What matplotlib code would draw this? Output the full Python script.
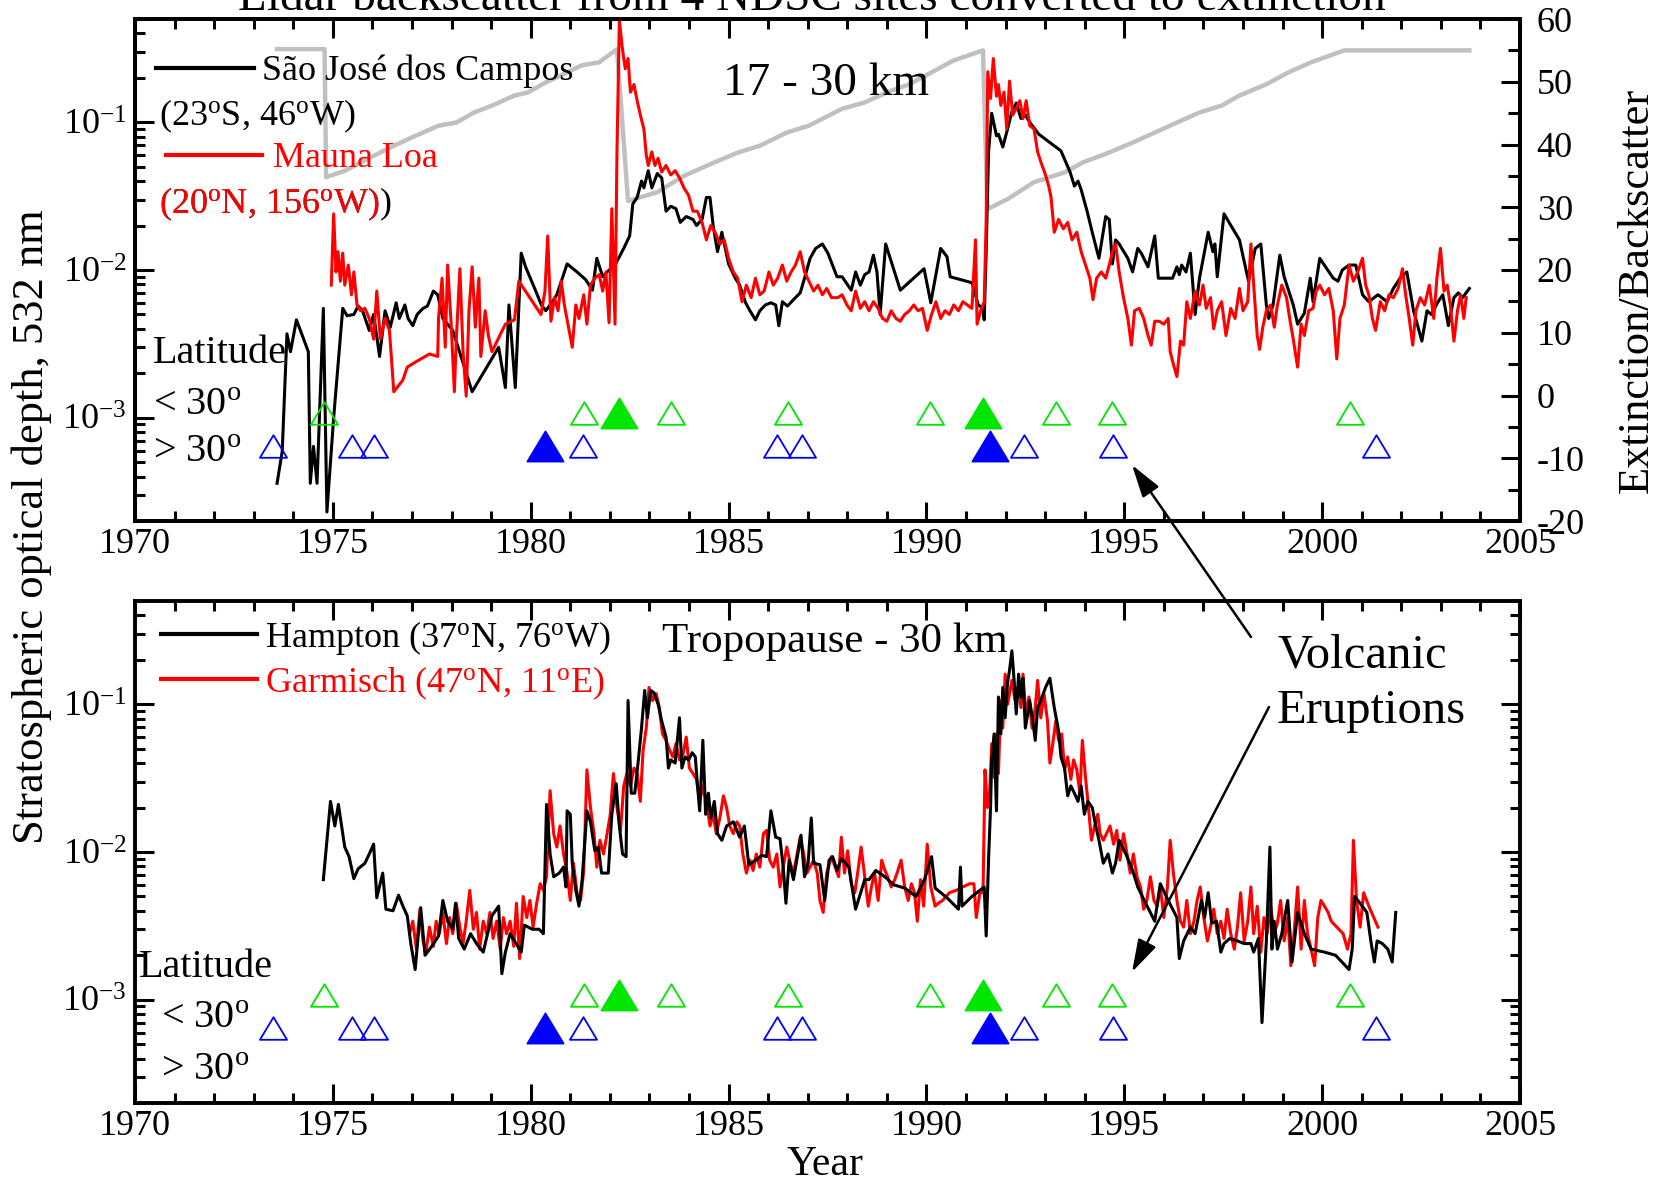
import numpy as np
import matplotlib
matplotlib.use('Agg')
import matplotlib.pyplot as plt
from matplotlib.ticker import MultipleLocator, LogLocator, NullFormatter
from matplotlib.lines import Line2D
from matplotlib.patches import FancyArrowPatch
from matplotlib.path import Path

plt.rcParams['font.family'] = 'Liberation Serif'
plt.rcParams['mathtext.fontset'] = 'custom'
plt.rcParams['mathtext.rm'] = 'Liberation Serif'
plt.rcParams['mathtext.it'] = 'Liberation Serif:italic'
plt.rcParams['mathtext.bf'] = 'Liberation Serif:bold'
plt.rcParams['axes.unicode_minus'] = False

## Data (year, optical depth)

# Sao Jose dos Campos, 17-30 km
sjc = [(1973.59, 3.6e-4), (1973.72, 5.9e-4), (1973.84, 0.0037), (1973.93, 0.0028), (1974.08, 0.0046),
       (1974.38, 0.0028), (1974.43, 3.6e-4), (1974.51, 6.4e-4), (1974.60, 3.6e-4), (1974.76, 0.0055),
       (1974.85, 2.3e-4), (1975.02, 0.0010), (1975.25, 0.0055), (1975.36, 0.0049), (1975.53, 0.0050),
       (1975.64, 0.0057), (1975.75, 0.0053), (1975.92, 0.0039), (1976.03, 0.0050), (1976.18, 0.0026),
       (1976.32, 0.0053), (1976.45, 0.0041), (1976.60, 0.0060), (1976.68, 0.0047), (1976.82, 0.0058),
       (1976.90, 0.0047), (1977.02, 0.0042), (1977.13, 0.0050), (1977.28, 0.0055), (1977.39, 0.0057),
       (1977.54, 0.0072), (1977.65, 0.0068), (1977.78, 0.0047), (1978.03, 0.0039), (1978.52, 0.0015),
       (1979.19, 0.0030), (1979.36, 0.0016), (1979.45, 0.0058), (1979.61, 0.0016), (1979.76, 0.0130),
       (1979.87, 0.0105), (1980.10, 0.0075), (1980.27, 0.0058), (1980.38, 0.0053), (1980.55, 0.0061),
       (1980.66, 0.0068), (1980.92, 0.0110), (1981.17, 0.0097), (1981.39, 0.0086), (1981.56, 0.0073),
       (1981.67, 0.0120), (1981.82, 0.0090), (1981.93, 0.0097), (1982.13, 0.0108), (1982.35, 0.0140),
       (1982.50, 0.0170), (1982.58, 0.028), (1982.69, 0.031), (1982.80, 0.040), (1982.86, 0.036),
       (1982.97, 0.047), (1983.06, 0.036), (1983.20, 0.045), (1983.31, 0.042), (1983.42, 0.025),
       (1983.54, 0.027), (1983.67, 0.026), (1983.78, 0.021), (1983.93, 0.023), (1984.10, 0.022),
       (1984.19, 0.020), (1984.33, 0.022), (1984.44, 0.031), (1984.53, 0.031), (1984.61, 0.020),
       (1984.72, 0.0133), (1984.83, 0.018), (1985.00, 0.011), (1985.17, 0.0088), (1985.28, 0.0079),
       (1985.43, 0.0060), (1985.54, 0.0053), (1985.68, 0.0046), (1985.79, 0.0053), (1985.93, 0.0058),
       (1986.07, 0.0060), (1986.19, 0.0058), (1986.27, 0.0042), (1986.36, 0.0061), (1986.49, 0.0057),
       (1986.64, 0.0063), (1986.81, 0.0070), (1986.92, 0.0088), (1987.06, 0.012), (1987.20, 0.014),
       (1987.37, 0.015), (1987.51, 0.013), (1987.74, 0.0090), (1987.87, 0.0090), (1988.10, 0.0073),
       (1988.21, 0.0097), (1988.33, 0.0079), (1988.44, 0.0093), (1988.55, 0.0097), (1988.66, 0.0126),
       (1988.75, 0.0097), (1988.83, 0.0050), (1988.97, 0.015), (1989.34, 0.0073), (1989.94, 0.0102),
       (1990.11, 0.0060), (1990.36, 0.014), (1990.52, 0.0123), (1990.60, 0.0090), (1991.15, 0.0082),
       (1991.31, 0.0058), (1991.43, 0.0055), (1991.46, 0.0046), (1991.51, 0.0133), (1991.57, 0.063),
       (1991.65, 0.115), (1991.77, 0.081), (1991.82, 0.083), (1991.93, 0.068), (1992.05, 0.090),
       (1992.16, 0.118), (1992.27, 0.135), (1992.39, 0.106), (1992.50, 0.112), (1992.61, 0.100),
       (1992.84, 0.083), (1993.40, 0.064), (1993.63, 0.046), (1993.74, 0.037), (1993.83, 0.040),
       (1993.91, 0.035), (1994.06, 0.025), (1994.19, 0.018), (1994.36, 0.012), (1994.53, 0.023),
       (1994.62, 0.022), (1994.70, 0.011), (1994.78, 0.016), (1994.87, 0.015), (1995.09, 0.012),
       (1995.21, 0.0097), (1995.34, 0.014), (1995.43, 0.013), (1995.60, 0.0105), (1995.77, 0.017),
       (1995.86, 0.0088), (1996.22, 0.0088), (1996.33, 0.0105), (1996.39, 0.0093), (1996.45, 0.0108),
       (1996.56, 0.0097), (1996.67, 0.013), (1996.79, 0.0050), (1996.90, 0.0088), (1997.12, 0.018),
       (1997.24, 0.0133), (1997.29, 0.015), (1997.35, 0.0090), (1997.52, 0.024), (1997.91, 0.016),
       (1998.14, 0.0084), (1998.31, 0.014), (1998.45, 0.015), (1998.59, 0.0058), (1998.65, 0.0047),
       (1998.76, 0.0058), (1998.93, 0.0126), (1999.04, 0.0090), (1999.27, 0.0058), (1999.38, 0.0043),
       (1999.55, 0.0051), (1999.70, 0.0088), (1999.77, 0.0061), (1999.94, 0.012), (2000.28, 0.0088),
       (2000.40, 0.0084), (2000.51, 0.010), (2000.68, 0.0108), (2000.85, 0.0108), (2001.02, 0.0068),
       (2001.18, 0.0061), (2001.41, 0.0068), (2001.64, 0.0061), (2001.80, 0.0075), (2001.97, 0.0088),
       (2002.14, 0.0097), (2002.31, 0.0053), (2002.52, 0.0033), (2002.65, 0.0053), (2002.76, 0.0050),
       (2002.93, 0.0061), (2003.05, 0.0068), (2003.19, 0.0042), (2003.33, 0.0065), (2003.44, 0.0070),
       (2003.55, 0.0065), (2003.72, 0.0075)]

# Mauna Loa, 17-30 km
mlo = [(1974.96, 0.0079), (1975.02, 0.024), (1975.08, 0.0097), (1975.13, 0.0133), (1975.19, 0.0084),
       (1975.25, 0.013), (1975.30, 0.0079), (1975.39, 0.0108), (1975.47, 0.0068), (1975.53, 0.0097),
       (1975.61, 0.0058), (1975.70, 0.0053), (1975.81, 0.0055), (1975.92, 0.0047), (1976.03, 0.0034),
       (1976.11, 0.0072), (1976.20, 0.0034), (1976.32, 0.0047), (1976.43, 0.0039), (1976.54, 0.0015),
       (1976.77, 0.0018), (1976.88, 0.0022), (1977.11, 0.0024), (1977.44, 0.0027), (1977.65, 0.0026),
       (1977.67, 0.0047), (1977.76, 0.0088), (1977.84, 0.0030), (1977.90, 0.0108), (1977.99, 0.0043),
       (1978.07, 0.0015), (1978.12, 0.0034), (1978.21, 0.0102), (1978.29, 0.0028), (1978.37, 0.0014),
       (1978.44, 0.0053), (1978.52, 0.0105), (1978.60, 0.0041), (1978.69, 0.0088), (1978.74, 0.0026),
       (1978.85, 0.0053), (1978.93, 0.0036), (1979.02, 0.0028), (1979.36, 0.0043), (1979.59, 0.0046),
       (1979.70, 0.0084), (1980.26, 0.0050), (1980.36, 0.0072), (1980.43, 0.017), (1980.51, 0.0045),
       (1980.60, 0.0065), (1980.69, 0.0053), (1980.77, 0.0084), (1980.85, 0.0058), (1980.94, 0.0043),
       (1981.05, 0.0030), (1981.14, 0.0058), (1981.22, 0.0047), (1981.34, 0.0068), (1981.42, 0.0043),
       (1981.51, 0.0079), (1981.62, 0.0088), (1981.73, 0.0093), (1981.82, 0.0072), (1981.90, 0.0097),
       (1981.98, 0.0044), (1982.05, 0.026), (1982.13, 0.0043), (1982.18, 0.063), (1982.24, 0.49),
       (1982.32, 0.31), (1982.39, 0.23), (1982.46, 0.27), (1982.52, 0.16), (1982.61, 0.18),
       (1982.69, 0.14), (1982.77, 0.112), (1982.86, 0.090), (1982.92, 0.060), (1982.97, 0.051),
       (1983.06, 0.063), (1983.14, 0.051), (1983.22, 0.057), (1983.31, 0.046), (1983.42, 0.051),
       (1983.54, 0.044), (1983.65, 0.047), (1983.76, 0.042), (1983.87, 0.036), (1983.99, 0.032),
       (1984.10, 0.025), (1984.21, 0.025), (1984.33, 0.021), (1984.44, 0.016), (1984.55, 0.020),
       (1984.66, 0.018), (1984.78, 0.015), (1984.89, 0.016), (1985.00, 0.012), (1985.12, 0.0097),
       (1985.23, 0.0088), (1985.34, 0.0061), (1985.45, 0.0079), (1985.57, 0.0065), (1985.68, 0.0088),
       (1985.79, 0.0068), (1985.90, 0.0072), (1986.02, 0.0097), (1986.13, 0.0079), (1986.24, 0.0088),
       (1986.36, 0.0108), (1986.47, 0.0084), (1986.58, 0.0097), (1986.69, 0.0108), (1986.81, 0.0133),
       (1986.92, 0.0097), (1987.03, 0.0084), (1987.15, 0.0072), (1987.26, 0.0079), (1987.37, 0.0068),
       (1987.48, 0.0075), (1987.60, 0.0065), (1987.76, 0.0065), (1987.87, 0.0068), (1987.99, 0.0058),
       (1988.10, 0.0053), (1988.21, 0.0072), (1988.33, 0.0055), (1988.44, 0.0061), (1988.55, 0.0053),
       (1988.66, 0.0061), (1988.78, 0.0055), (1988.89, 0.0047), (1989.00, 0.0045), (1989.11, 0.0053),
       (1989.23, 0.0047), (1989.34, 0.0045), (1989.45, 0.0050), (1989.57, 0.0053), (1989.68, 0.0058),
       (1989.79, 0.0053), (1989.90, 0.0055), (1990.02, 0.0039), (1990.13, 0.0050), (1990.24, 0.0061),
       (1990.36, 0.0047), (1990.47, 0.0053), (1990.58, 0.0050), (1990.69, 0.0058), (1990.81, 0.0053),
       (1990.92, 0.0061), (1991.03, 0.0058), (1991.15, 0.0055), (1991.24, 0.016), (1991.28, 0.0043),
       (1991.37, 0.0053), (1991.46, 0.0061), (1991.51, 0.022), (1991.55, 0.22), (1991.62, 0.145),
       (1991.69, 0.27), (1991.77, 0.15), (1991.82, 0.18), (1991.88, 0.13), (1991.96, 0.16),
       (1992.03, 0.090), (1992.10, 0.19), (1992.18, 0.112), (1992.27, 0.124), (1992.36, 0.14),
       (1992.44, 0.106), (1992.52, 0.14), (1992.61, 0.095), (1992.72, 0.090), (1992.81, 0.063),
       (1992.89, 0.054), (1993.01, 0.044), (1993.09, 0.037), (1993.15, 0.031), (1993.23, 0.018),
       (1993.34, 0.022), (1993.46, 0.019), (1993.57, 0.021), (1993.68, 0.016), (1993.80, 0.018),
       (1993.91, 0.0133), (1994.02, 0.0108), (1994.13, 0.0088), (1994.21, 0.0063), (1994.30, 0.0088),
       (1994.42, 0.0097), (1994.53, 0.0088), (1994.62, 0.0108), (1994.70, 0.0133), (1994.78, 0.015),
       (1994.87, 0.0097), (1994.98, 0.0065), (1995.09, 0.0047), (1995.18, 0.0031), (1995.26, 0.0053),
       (1995.38, 0.0055), (1995.49, 0.0047), (1995.60, 0.0036), (1995.68, 0.0031), (1995.77, 0.0045),
       (1995.88, 0.0045), (1996.00, 0.0043), (1996.11, 0.0047), (1996.16, 0.0028), (1996.24, 0.0023),
       (1996.33, 0.0019), (1996.42, 0.0033), (1996.50, 0.0031), (1996.58, 0.0061), (1996.67, 0.0047),
       (1996.79, 0.0072), (1996.90, 0.0058), (1996.99, 0.0079), (1997.07, 0.0055), (1997.18, 0.0065),
       (1997.26, 0.0040), (1997.35, 0.0053), (1997.46, 0.0061), (1997.57, 0.0036), (1997.69, 0.0055),
       (1997.80, 0.0047), (1997.91, 0.0075), (1998.00, 0.0053), (1998.12, 0.0061), (1998.20, 0.015),
       (1998.27, 0.0079), (1998.36, 0.0036), (1998.42, 0.0029), (1998.50, 0.0041), (1998.59, 0.0053),
       (1998.70, 0.0058), (1998.79, 0.0041), (1998.87, 0.0058), (1998.98, 0.0079), (1999.10, 0.0065),
       (1999.18, 0.0047), (1999.27, 0.0034), (1999.38, 0.0022), (1999.47, 0.0043), (1999.55, 0.0036),
       (1999.66, 0.0053), (1999.77, 0.0055), (1999.85, 0.0072), (1999.94, 0.0079), (2000.06, 0.0068),
       (2000.17, 0.0075), (2000.28, 0.0053), (2000.37, 0.0025), (2000.45, 0.0047), (2000.56, 0.0058),
       (2000.68, 0.0108), (2000.79, 0.0084), (2000.90, 0.0097), (2001.02, 0.012), (2001.10, 0.0079),
       (2001.18, 0.0068), (2001.27, 0.0047), (2001.35, 0.0039), (2001.47, 0.0061), (2001.58, 0.0053),
       (2001.69, 0.0068), (2001.80, 0.0065), (2001.92, 0.0075), (2002.03, 0.0102), (2002.11, 0.0068),
       (2002.20, 0.0047), (2002.29, 0.0031), (2002.37, 0.0053), (2002.48, 0.0065), (2002.59, 0.0058),
       (2002.71, 0.0079), (2002.82, 0.0047), (2002.90, 0.0088), (2002.99, 0.014), (2003.08, 0.0072),
       (2003.16, 0.0079), (2003.24, 0.0058), (2003.33, 0.0033), (2003.42, 0.0053), (2003.50, 0.0068),
       (2003.58, 0.0047), (2003.64, 0.0065)]

# Hampton, tropopause-30 km
hampton = [(1974.76, 0.0065), (1974.94, 0.022), (1975.05, 0.015), (1975.14, 0.021), (1975.30, 0.0108),
           (1975.41, 0.0093), (1975.53, 0.0066), (1975.64, 0.0077), (1975.81, 0.0084), (1975.92, 0.0097),
           (1976.03, 0.0113), (1976.11, 0.0049), (1976.26, 0.0072), (1976.34, 0.0041), (1976.52, 0.0040),
           (1976.66, 0.0051), (1976.77, 0.0043), (1976.88, 0.0037), (1976.97, 0.0024), (1977.08, 0.0016),
           (1977.22, 0.0042), (1977.33, 0.0020), (1977.50, 0.0023), (1977.67, 0.0027), (1977.78, 0.0047),
           (1977.90, 0.0034), (1978.03, 0.0030), (1978.10, 0.0045), (1978.18, 0.0026), (1978.32, 0.0022),
           (1978.48, 0.0028), (1978.63, 0.0024), (1978.80, 0.0021), (1978.91, 0.0028), (1979.02, 0.0037),
           (1979.19, 0.0043), (1979.27, 0.0015), (1979.36, 0.0021), (1979.48, 0.0028), (1979.59, 0.0025),
           (1979.76, 0.0021), (1979.84, 0.0032), (1980.04, 0.0030), (1980.21, 0.0030), (1980.32, 0.0028),
           (1980.40, 0.021), (1980.49, 0.0097), (1980.58, 0.0068), (1980.72, 0.0072), (1980.83, 0.0079),
           (1980.89, 0.0058), (1980.92, 0.019), (1981.00, 0.018), (1981.05, 0.0084), (1981.14, 0.0055),
           (1981.22, 0.0043), (1981.30, 0.0065), (1981.42, 0.019), (1981.51, 0.016), (1981.62, 0.0102),
           (1981.71, 0.0108), (1981.79, 0.0072), (1981.96, 0.0072), (1982.05, 0.018), (1982.16, 0.029),
           (1982.24, 0.015), (1982.32, 0.0097), (1982.41, 0.0093), (1982.46, 0.106), (1982.54, 0.025),
           (1982.63, 0.025), (1982.72, 0.042), (1982.80, 0.069), (1982.88, 0.124), (1982.95, 0.081),
           (1983.03, 0.124), (1983.11, 0.12), (1983.22, 0.100), (1983.31, 0.077), (1983.42, 0.060),
           (1983.48, 0.037), (1983.54, 0.042), (1983.65, 0.040), (1983.76, 0.081), (1983.82, 0.037),
           (1983.90, 0.044), (1983.99, 0.042), (1984.08, 0.047), (1984.16, 0.044), (1984.21, 0.029),
           (1984.27, 0.019), (1984.35, 0.057), (1984.42, 0.018), (1984.49, 0.025), (1984.55, 0.017),
           (1984.64, 0.022), (1984.72, 0.0133), (1984.83, 0.012), (1984.95, 0.015), (1985.12, 0.016),
           (1985.28, 0.0126), (1985.40, 0.015), (1985.51, 0.0082), (1985.68, 0.0088), (1985.85, 0.0095),
           (1985.96, 0.0093), (1986.07, 0.019), (1986.19, 0.0126), (1986.30, 0.0123), (1986.38, 0.0079),
           (1986.45, 0.0045), (1986.53, 0.0088), (1986.64, 0.0065), (1986.75, 0.0097), (1986.83, 0.013),
           (1986.92, 0.0068), (1987.01, 0.0084), (1987.09, 0.017), (1987.15, 0.0084), (1987.31, 0.0082),
           (1987.43, 0.0047), (1987.54, 0.0088), (1987.63, 0.0093), (1987.74, 0.0075), (1987.85, 0.0090),
           (1988.04, 0.0079), (1988.21, 0.0041), (1988.44, 0.0065), (1988.55, 0.0065), (1988.72, 0.0075),
           (1988.95, 0.0068), (1989.17, 0.0060), (1989.45, 0.0057), (1989.74, 0.0050), (1989.96, 0.0066),
           (1990.13, 0.0093), (1990.22, 0.0057), (1990.52, 0.0049), (1990.81, 0.0041), (1990.86, 0.0079),
           (1990.90, 0.0043), (1991.15, 0.0050), (1991.46, 0.0058), (1991.51, 0.0027), (1991.57, 0.0088),
           (1991.62, 0.020), (1991.65, 0.042), (1991.71, 0.063), (1991.77, 0.019), (1991.82, 0.112),
           (1991.88, 0.063), (1991.93, 0.13), (1991.99, 0.081), (1992.05, 0.14), (1992.10, 0.17),
           (1992.16, 0.23), (1992.22, 0.14), (1992.27, 0.086), (1992.33, 0.16), (1992.39, 0.112),
           (1992.44, 0.15), (1992.50, 0.069), (1992.56, 0.086), (1992.61, 0.106), (1992.70, 0.073),
           (1992.75, 0.057), (1992.81, 0.095), (1992.89, 0.106), (1993.01, 0.13), (1993.12, 0.15),
           (1993.23, 0.095), (1993.34, 0.066), (1993.40, 0.044), (1993.49, 0.037), (1993.57, 0.024),
           (1993.65, 0.028), (1993.74, 0.025), (1993.83, 0.022), (1993.91, 0.028), (1993.99, 0.018),
           (1994.08, 0.022), (1994.19, 0.020), (1994.28, 0.015), (1994.36, 0.012), (1994.47, 0.0084),
           (1994.59, 0.0097), (1994.70, 0.0072), (1994.78, 0.0084), (1994.87, 0.012), (1995.04, 0.0097),
           (1995.21, 0.0075), (1995.34, 0.0058), (1995.54, 0.0045), (1995.77, 0.0034), (1995.91, 0.0061),
           (1996.11, 0.0047), (1996.33, 0.0036), (1996.39, 0.0019), (1996.50, 0.0025), (1996.67, 0.0031),
           (1996.79, 0.0028), (1996.95, 0.0047), (1997.03, 0.0036), (1997.12, 0.0053), (1997.21, 0.0033),
           (1997.33, 0.0034), (1997.44, 0.0021), (1997.52, 0.0024), (1997.67, 0.0026), (1997.86, 0.0025),
           (1998.03, 0.0024), (1998.20, 0.0024), (1998.27, 0.0021), (1998.39, 0.0026), (1998.48, 0.0007),
           (1998.59, 0.0025), (1998.68, 0.0108), (1998.73, 0.0022), (1998.79, 0.0034), (1998.87, 0.0022),
           (1998.98, 0.0028), (1999.13, 0.0047), (1999.24, 0.0018), (1999.38, 0.0039), (1999.55, 0.0028),
           (1999.72, 0.0022), (2000.06, 0.0021), (2000.34, 0.0020), (2000.68, 0.0016), (2000.76, 0.0022),
           (2000.82, 0.0050), (2000.96, 0.0045), (2001.13, 0.0039), (2001.24, 0.0024), (2001.32, 0.0018),
           (2001.39, 0.0025), (2001.52, 0.0024), (2001.66, 0.0022), (2001.77, 0.0018), (2001.86, 0.0039)]

# Garmisch, tropopause-30 km
garmisch = [(1976.94, 0.0028), (1977.02, 0.0034), (1977.11, 0.0022), (1977.20, 0.0041), (1977.28, 0.0025),
            (1977.35, 0.0021), (1977.44, 0.0031), (1977.54, 0.0023), (1977.61, 0.0034), (1977.69, 0.0028),
            (1977.78, 0.0039), (1977.87, 0.0024), (1977.95, 0.0036), (1978.03, 0.0028), (1978.12, 0.0045),
            (1978.21, 0.0031), (1978.29, 0.0024), (1978.37, 0.0034), (1978.46, 0.0055), (1978.55, 0.0030),
            (1978.63, 0.0039), (1978.71, 0.0022), (1978.80, 0.0034), (1978.89, 0.0028), (1978.97, 0.0039),
            (1979.05, 0.0026), (1979.14, 0.0034), (1979.23, 0.0022), (1979.31, 0.0036), (1979.39, 0.0028),
            (1979.48, 0.0034), (1979.57, 0.0023), (1979.64, 0.0045), (1979.72, 0.0019), (1979.81, 0.0050),
            (1979.90, 0.0036), (1979.98, 0.0047), (1980.06, 0.0031), (1980.15, 0.0045), (1980.24, 0.0061),
            (1980.32, 0.0055), (1980.40, 0.0068), (1980.49, 0.026), (1980.58, 0.0133), (1980.66, 0.0108),
            (1980.74, 0.015), (1980.83, 0.0097), (1980.92, 0.0072), (1981.00, 0.0047), (1981.08, 0.0084),
            (1981.17, 0.0053), (1981.26, 0.0047), (1981.34, 0.0075), (1981.42, 0.036), (1981.51, 0.020),
            (1981.60, 0.0133), (1981.67, 0.0079), (1981.75, 0.012), (1981.84, 0.0097), (1981.93, 0.0133),
            (1982.01, 0.018), (1982.09, 0.034), (1982.18, 0.020), (1982.27, 0.014), (1982.35, 0.028),
            (1982.43, 0.034), (1982.52, 0.028), (1982.61, 0.037), (1982.69, 0.034), (1982.77, 0.022),
            (1982.84, 0.049), (1982.92, 0.069), (1982.99, 0.13), (1983.08, 0.106), (1983.17, 0.118),
            (1983.25, 0.095), (1983.33, 0.063), (1983.42, 0.057), (1983.51, 0.049), (1983.59, 0.044),
            (1983.67, 0.054), (1983.76, 0.042), (1983.85, 0.046), (1983.93, 0.060), (1984.01, 0.037),
            (1984.10, 0.034), (1984.19, 0.031), (1984.27, 0.022), (1984.35, 0.028), (1984.44, 0.022),
            (1984.53, 0.015), (1984.61, 0.018), (1984.69, 0.0133), (1984.78, 0.017), (1984.87, 0.024),
            (1984.95, 0.020), (1985.03, 0.015), (1985.12, 0.0133), (1985.21, 0.016), (1985.28, 0.015),
            (1985.36, 0.0097), (1985.45, 0.0072), (1985.54, 0.0088), (1985.62, 0.0075), (1985.70, 0.0097),
            (1985.79, 0.0079), (1985.88, 0.0133), (1985.96, 0.014), (1986.04, 0.0088), (1986.13, 0.0079),
            (1986.22, 0.0097), (1986.30, 0.0058), (1986.38, 0.0079), (1986.47, 0.0108), (1986.56, 0.0084),
            (1986.64, 0.0072), (1986.72, 0.0093), (1986.81, 0.0126), (1986.90, 0.0097), (1986.98, 0.0072),
            (1987.06, 0.0079), (1987.15, 0.0088), (1987.24, 0.0072), (1987.31, 0.0047), (1987.39, 0.0039),
            (1987.48, 0.0072), (1987.60, 0.0093), (1987.78, 0.0068), (1987.85, 0.0126), (1987.93, 0.0072),
            (1988.01, 0.0102), (1988.10, 0.0061), (1988.19, 0.0053), (1988.27, 0.0075), (1988.35, 0.0108),
            (1988.44, 0.0068), (1988.53, 0.0043), (1988.61, 0.0058), (1988.69, 0.0072), (1988.78, 0.0047),
            (1988.87, 0.0088), (1988.95, 0.0075), (1989.02, 0.0068), (1989.11, 0.0058), (1989.20, 0.0065),
            (1989.28, 0.0075), (1989.36, 0.0088), (1989.45, 0.0058), (1989.54, 0.0047), (1989.62, 0.0061),
            (1989.70, 0.0053), (1989.77, 0.0034), (1989.85, 0.0065), (1989.93, 0.0043), (1990.02, 0.0113),
            (1990.11, 0.0058), (1990.22, 0.0043), (1990.30, 0.0045), (1990.41, 0.0047), (1990.58, 0.0053),
            (1990.75, 0.0055), (1990.92, 0.0058), (1991.09, 0.0061), (1991.20, 0.0061), (1991.26, 0.0036),
            (1991.35, 0.0053), (1991.43, 0.0053), (1991.48, 0.036), (1991.54, 0.020), (1991.60, 0.026),
            (1991.65, 0.054), (1991.71, 0.032), (1991.77, 0.063), (1991.82, 0.034), (1991.88, 0.106),
            (1991.93, 0.069), (1991.99, 0.16), (1992.05, 0.100), (1992.10, 0.118), (1992.16, 0.145),
            (1992.24, 0.106), (1992.31, 0.13), (1992.39, 0.095), (1992.44, 0.16), (1992.52, 0.081),
            (1992.59, 0.112), (1992.67, 0.069), (1992.75, 0.095), (1992.81, 0.145), (1992.89, 0.081),
            (1992.97, 0.118), (1993.06, 0.077), (1993.12, 0.040), (1993.18, 0.051), (1993.27, 0.077),
            (1993.34, 0.057), (1993.42, 0.063), (1993.49, 0.036), (1993.57, 0.044), (1993.65, 0.031),
            (1993.72, 0.042), (1993.80, 0.036), (1993.88, 0.025), (1993.94, 0.057), (1994.02, 0.032),
            (1994.08, 0.022), (1994.17, 0.012), (1994.25, 0.015), (1994.33, 0.018), (1994.39, 0.0133),
            (1994.47, 0.012), (1994.55, 0.0133), (1994.64, 0.015), (1994.73, 0.0113), (1994.81, 0.014),
            (1994.89, 0.0088), (1994.98, 0.0133), (1995.07, 0.0097), (1995.15, 0.0072), (1995.23, 0.0097),
            (1995.32, 0.0068), (1995.41, 0.0058), (1995.49, 0.0041), (1995.57, 0.0047), (1995.66, 0.0068),
            (1995.75, 0.0047), (1995.83, 0.0043), (1995.91, 0.0058), (1996.00, 0.0036), (1996.09, 0.0058),
            (1996.16, 0.012), (1996.24, 0.0072), (1996.33, 0.0047), (1996.42, 0.0034), (1996.50, 0.0031),
            (1996.58, 0.0047), (1996.67, 0.0028), (1996.76, 0.0034), (1996.84, 0.0047), (1996.92, 0.0058),
            (1997.01, 0.0036), (1997.10, 0.0025), (1997.18, 0.0031), (1997.26, 0.0041), (1997.35, 0.0028),
            (1997.44, 0.0034), (1997.52, 0.0026), (1997.60, 0.0041), (1997.69, 0.0028), (1997.78, 0.0022),
            (1997.86, 0.0031), (1997.94, 0.0053), (1998.03, 0.0025), (1998.12, 0.0034), (1998.20, 0.0058),
            (1998.27, 0.0028), (1998.36, 0.0043), (1998.45, 0.0021), (1998.53, 0.0036), (1998.61, 0.0028),
            (1998.70, 0.0043), (1998.79, 0.0028), (1998.87, 0.0033), (1998.95, 0.0047), (1999.04, 0.0025),
            (1999.13, 0.0036), (1999.21, 0.0017), (1999.29, 0.0028), (1999.38, 0.0058), (1999.47, 0.0022),
            (1999.55, 0.0047), (1999.63, 0.0028), (1999.72, 0.0022), (1999.81, 0.0017), (1999.89, 0.0036),
            (1999.97, 0.0047), (2000.06, 0.0043), (2000.15, 0.0039), (2000.23, 0.0034), (2000.53, 0.0028),
            (2000.64, 0.0022), (2000.73, 0.0028), (2000.79, 0.012), (2000.87, 0.0047), (2000.96, 0.0031),
            (2001.05, 0.0053), (2001.18, 0.0043), (2001.41, 0.0031)]

# extinction/backscatter ratio used for the conversion (right axis, top panel)
ratio_year = [1973.59, 1974.79, 1974.83, 1975.30, 1975.87, 1976.54, 1976.99, 1977.67, 1978.12, 1978.57,
              1979.02, 1979.59, 1979.93, 1980.38, 1980.83, 1981.28, 1981.73, 1982.18, 1982.46, 1983.20,
              1983.87, 1984.66, 1985.23, 1985.79, 1986.47, 1987.03, 1987.87, 1988.44, 1989.00, 1989.57,
              1990.13, 1990.69, 1991.43, 1991.54, 1992.05, 1992.72, 1993.51, 1993.97, 1994.53, 1995.21,
              1995.77, 1996.33, 1996.90, 1997.46, 1997.91, 1998.59, 1999.15, 1999.72, 2000.56, 2003.72]
ratio_val = [55.2, 55.2, 34.8, 35.8, 37.7, 39.8, 41.1, 43.0, 43.5, 45.1,
             46.2, 47.8, 48.3, 49.9, 51.2, 52.6, 53.1, 55.2, 31.0, 32.4,
             35.0, 37.2, 38.7, 39.8, 41.9, 43.0, 45.7, 46.7, 48.3, 49.6,
             51.5, 53.4, 55.0, 29.7, 31.3, 34.0, 35.6, 37.2, 38.5, 40.3,
             41.9, 43.5, 45.1, 46.2, 47.8, 49.6, 51.5, 53.1, 55.0, 55.0]

# volcanic eruptions (year), latitude < 30 deg and > 30 deg; big ones filled
low_lat = [1974.78, 1981.35, 1983.54, 1986.50, 1990.08, 1993.28, 1994.70, 2000.71]
low_lat_major = [1982.23, 1991.43]
high_lat = [1973.50, 1975.49, 1976.04, 1981.31, 1986.22, 1986.86, 1992.46, 1994.72, 2001.35]
high_lat_major = [1980.36, 1991.60]

## Figure

W, H = 1661, 1188
fig = plt.figure(figsize=(W / 100, H / 100), dpi=100)

def fx(px):
    return px / W

def fy(py):
    return 1 - py / H

green = '#00e600'
blue = '#0000ff'
tri = Path([(-1.2, -1), (1.2, -1), (0, 1), (-1.2, -1)], closed=True)


def style_axes(ax, right=True):
    ax.set_yscale('log')
    ax.set_xlim(1970, 2005)
    ax.set_ylim(2e-4, 0.5)
    ax.xaxis.set_major_locator(MultipleLocator(5))
    ax.xaxis.set_minor_locator(MultipleLocator(1))
    ax.yaxis.set_major_locator(LogLocator(base=10, numticks=10))
    ax.yaxis.set_minor_locator(LogLocator(base=10, subs=np.arange(2, 10), numticks=20))
    ax.yaxis.set_minor_formatter(NullFormatter())
    ax.tick_params(which='both', direction='in', top=True, right=right, width=2.2, labelsize=26)
    ax.tick_params(which='major', length=14)
    ax.tick_params(which='minor', length=7)
    ax.tick_params(axis='x', pad=5)
    ax.tick_params(axis='y', pad=6)
    for s in ax.spines.values():
        s.set_linewidth(2.8)


def volcanoes(ax):
    ax.plot(low_lat, [1.07e-3] * len(low_lat), ls='none', marker=tri, ms=19.5,
            mfc='none', mec=green, mew=1.3)
    ax.plot(low_lat_major, [1.07e-3] * len(low_lat_major), ls='none', marker=tri, ms=26,
            mfc=green, mec=green, mew=1.3)
    ax.plot(high_lat, [6.45e-4] * len(high_lat), ls='none', marker=tri, ms=19.5,
            mfc='none', mec=blue, mew=1.3)
    ax.plot(high_lat_major, [6.45e-4] * len(high_lat_major), ls='none', marker=tri, ms=26,
            mfc=blue, mec=blue, mew=1.3)


# top panel: 17 - 30 km
ax1 = fig.add_axes([fx(135), fy(521), (1520 - 135) / W, (521 - 19) / H])
ax1b = ax1.twinx()
ax1.set_zorder(ax1b.get_zorder() + 1)
ax1.patch.set_visible(False)

ax1b.plot(ratio_year, ratio_val, color='#c0c0c0', lw=3.2)
ax1b.set_ylim(-20, 60)
ax1b.yaxis.set_major_locator(MultipleLocator(10))
ax1b.yaxis.set_minor_locator(MultipleLocator(5))
ax1b.tick_params(which='both', direction='in', width=2.2, labelsize=26, pad=12)
ax1b.tick_params(which='major', length=14)
ax1b.tick_params(which='minor', length=9)
for s in ax1b.spines.values():
    s.set_linewidth(2.8)

x, y = np.array(sjc).T
ax1.plot(x, y, color='black', lw=2.2)
x, y = np.array(mlo).T
ax1.plot(x, y, color='red', lw=2.2)
volcanoes(ax1)
style_axes(ax1, right=False)

# bottom panel: tropopause - 30 km
ax2 = fig.add_axes([fx(135), fy(1103), (1520 - 135) / W, (1103 - 601) / H])
x, y = np.array(garmisch).T
ax2.plot(x, y, color='red', lw=2.2)
x, y = np.array(hampton).T
ax2.plot(x, y, color='black', lw=2.2)
volcanoes(ax2)
style_axes(ax2, right=True)

## Text


def label(px, py, s, size, color='black', **kw):
    return fig.text(fx(px), fy(py), s, fontsize=size, color=color, va='baseline', **kw)


deg = r'$^{\rm o}$'

fig.text(fx(812), fy(10), 'Lidar backscatter from 4 NDSC sites converted to extinction',
         ha='center', va='baseline', fontsize=34)

# top legend
fig.add_artist(Line2D([fx(156), fx(254)], [fy(68), fy(68)], color='black', lw=3))
label(262, 80, 'São José dos Campos', 26)
label(159, 125, '(23' + deg + 'S, 46' + deg + 'W)', 26)
fig.add_artist(Line2D([fx(166), fx(262)], [fy(155), fy(155)], color='red', lw=3))
label(273, 167, 'Mauna Loa', 26, color='red')
label(159, 213, '(20' + deg + 'N, 156' + deg + 'W))', 26)
label(159, 213, '(20' + deg + 'N, 156' + deg + 'W)', 26, color='red')
label(723, 95, '17 - 30 km', 34)

label(153, 363, 'Latitude', 29)
label(153, 415, '< 30' + deg, 29)
label(153, 462, '> 30' + deg, 29)

# bottom legend
fig.add_artist(Line2D([fx(161), fx(257)], [fy(634), fy(634)], color='black', lw=3))
label(265, 647, 'Hampton (37' + deg + 'N, 76' + deg + 'W)', 26)
fig.add_artist(Line2D([fx(161), fx(257)], [fy(679), fy(679)], color='red', lw=3))
label(265, 692, 'Garmisch (47' + deg + 'N, 11' + deg + 'E)', 26, color='red')
label(662, 652, 'Tropopause - 30 km', 31)

label(139, 977, 'Latitude', 29)
label(161, 1028, '< 30' + deg, 29)
label(161, 1080, '> 30' + deg, 29)

label(1277, 668, 'Volcanic', 35)
label(1277, 723, 'Eruptions', 35)

for start, end in [((1251, 637), (1132, 465)), ((1269, 707), (1132, 972))]:
    fig.add_artist(FancyArrowPatch((fx(start[0]), fy(start[1])), (fx(end[0]), fy(end[1])),
                                   transform=fig.transFigure, color='black', lw=1.8,
                                   arrowstyle='-|>,head_length=1.0,head_width=0.3',
                                   mutation_scale=20, shrinkA=0, shrinkB=0))

# axis labels
fig.text(fx(32), fy(527), 'Stratospheric optical depth, 532 nm', rotation=90,
         ha='center', va='center', fontsize=32)
fig.text(fx(1637), fy(290), 'Extinction/Backscatter', rotation=90,
         ha='center', va='center', fontsize=32)
fig.text(fx(825), fy(1165), 'Year', ha='center', va='center', fontsize=30)

plt.savefig('out.png', dpi=100)
